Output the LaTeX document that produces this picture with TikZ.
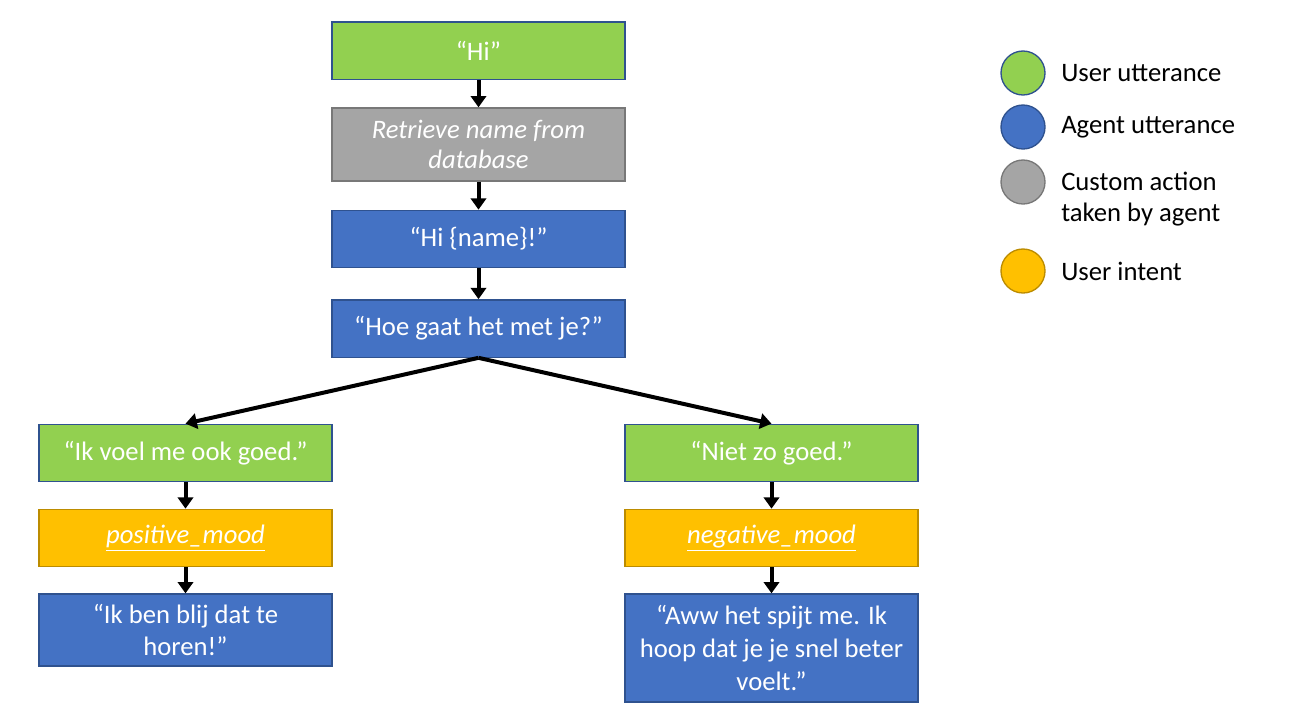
\documentclass[tikz,border=0pt]{standalone}
\usepackage{fontspec}
\setmainfont{Carlito}
\usetikzlibrary{arrows.meta}
\definecolor{usergreen}{HTML}{92D050}
\definecolor{agentblue}{HTML}{4472C4}
\definecolor{actiongray}{HTML}{A5A5A5}
\definecolor{intentgold}{HTML}{FFC000}
\definecolor{edgeblue}{HTML}{2F528F}
\definecolor{edgegray}{HTML}{787878}
\definecolor{edgegold}{HTML}{BC8C00}
\tikzset{
    box/.style={rectangle, line width=1pt, minimum width=219.75pt, minimum height=43pt,
            align=center, text=white, font=\fontsize{20}{24}\selectfont, inner sep=2pt},
    userbox/.style={box, draw=edgeblue, fill=usergreen},
    agentbox/.style={box, draw=edgeblue, fill=agentblue},
    actionbox/.style={box, draw=edgegray, fill=actiongray},
    intentbox/.style={box, draw=edgegold, fill=intentgold},
    flow/.style={line width=3pt, -{Triangle[length=8.5pt, width=11.5pt]}},
    legenddot/.style={circle, line width=1pt, minimum size=33pt, inner sep=0pt},
    legendtext/.style={anchor=west, align=left, font=\fontsize{20}{23}\selectfont, inner sep=0pt},
}
\begin{document}
\begin{tikzpicture}[x=0.75pt, y=-0.75pt]
        \useasboundingbox (0, 0) rectangle (1291, 718);
        %draw top of the dialogue
        \node[userbox] (hi) at (478.5, 50.5) {“Hi”};
        \node[actionbox, minimum height=54.75pt, font=\fontsize{20}{22.5}\selectfont] (retrieve) at (478.5, 144.5) {\itshape Retrieve name from\\\itshape database};
        \node[agentbox] (hiname) at (478.5, 239) {“Hi \{name\}!”};
        \node[agentbox] (howare) at (478.5, 328.5) {“Hoe gaat het met je?”};
        %draw left branch
        \node[userbox] (good) at (185.5, 453) {“Ik voel me ook goed.”};
        \node[intentbox] (posmood) at (185.5, 538) {\itshape\underline{positive\_mood}};
        \node[agentbox, minimum height=54pt] (glad) at (185.5, 630) {“Ik ben blij dat te\\horen!”};
        %draw right branch
        \node[userbox] (notgood) at (771.5, 453) {“Niet zo goed.”};
        \node[intentbox] (negmood) at (771.5, 538) {\itshape\underline{negative\_mood}};
        \node[agentbox, minimum height=81pt, font=\fontsize{20}{25}\selectfont] (sorry) at (771.5, 648) {“Aww het spijt me. Ik\\hoop dat je je snel beter\\voelt.”};
        %draw arrows
        \draw[flow] (hi) -- (retrieve);
        \draw[flow] (retrieve) -- (hiname);
        \draw[flow] (hiname) -- (howare);
        \draw[flow] (howare.south) -- (good.north);
        \draw[flow] (howare.south) -- (notgood.north);
        \draw[flow] (good) -- (posmood);
        \draw[flow] (posmood) -- (glad);
        \draw[flow] (notgood) -- (negmood);
        \draw[flow] (negmood) -- (sorry);
        %draw legend
        \node[legenddot, draw=edgeblue, fill=usergreen] (keyuser) at (1023, 73) {};
        \node[legenddot, draw=edgeblue, fill=agentblue] (keyagent) at (1023, 127) {};
        \node[legenddot, draw=edgegray, fill=actiongray] (keyaction) at (1023, 182) {};
        \node[legenddot, draw=edgegold, fill=intentgold] (keyintent) at (1023, 271) {};
        \node[legendtext] at (1061, 73) {User utterance};
        \node[legendtext] at (1061, 127) {Agent utterance};
        \node[legendtext] at (1061, 199) {Custom action\\taken by agent};
        \node[legendtext] at (1061, 271) {User intent};
    \end{tikzpicture}
\end{document}
